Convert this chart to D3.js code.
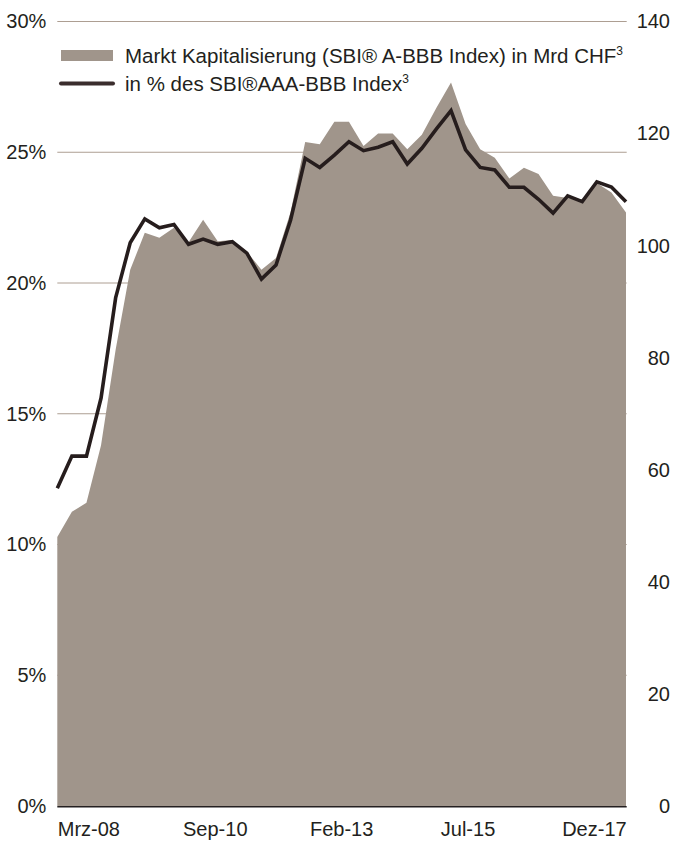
<!DOCTYPE html>
<html>
<head>
<meta charset="utf-8">
<script src="https://cdn.jsdelivr.net/npm/d3@7"></script>
<style>
  html, body { margin: 0; padding: 0; background: #fff; }
  svg { display: block; }
  text { font-family: "Liberation Sans", Arial, sans-serif; fill: #231f20; }
</style>
</head>
<body>
<svg id="chart" width="673" height="841"></svg>
<script>
// Quarterly observations, Mrz-08 … Dez-17
// Market capitalisation of the SBI® A-BBB index, in Mrd CHF (right axis)
const marketCap = [
  48.0, 52.5, 54.1, 64.4, 81.4, 95.7, 102.3, 101.4, 103.2, 100.6,
  104.6, 100.8, 101.0, 98.9, 95.7, 97.8, 106.0, 118.5, 118.1, 122.1,
  122.1, 117.8, 120.0, 120.0, 117.2, 119.8, 124.6, 129.1, 121.7, 117.2,
  115.7, 112.0, 113.9, 112.8, 108.9, 108.5, 108.3, 111.2, 109.5, 105.9
];
// Share of the SBI® AAA-BBB index, in % (left axis)
const shareOfIndex = [
  12.15, 13.38, 13.38, 15.60, 19.43, 21.54, 22.45, 22.11, 22.24, 21.48,
  21.68, 21.48, 21.58, 21.14, 20.15, 20.69, 22.41, 24.77, 24.42, 24.89,
  25.40, 25.06, 25.19, 25.40, 24.55, 25.15, 25.89, 26.59, 25.09, 24.42,
  24.32, 23.66, 23.66, 23.20, 22.67, 23.33, 23.11, 23.87, 23.67, 23.11
];
const xLabels = ["Mrz-08", "Sep-10", "Feb-13", "Jul-15", "Dez-17"];
const leftTicks = [0, 5, 10, 15, 20, 25, 30];
const rightTicks = [0, 20, 40, 60, 80, 100, 120, 140];
const legendItems = [
  { kind: "area", text: "Markt Kapitalisierung (SBI® A-BBB Index) in Mrd CHF", sup: "3" },
  { kind: "line", text: "in % des SBI®AAA-BBB Index", sup: "3" }
];

const fillColor = "#a0958b";
const lineColor = "#261d1d";
const gridColor = "#ad9e92";

const svg = d3.select("#chart");
const plot = { left: 57.3, right: 626, top: 21.5, bottom: 806 };

const n = marketCap.length;
const x = d3.scaleLinear().domain([0, n - 1]).range([plot.left, plot.right]);
const yLeft = d3.scaleLinear().domain([0, 30]).range([plot.bottom, plot.top]);
const yRight = d3.scaleLinear().domain([0, 140]).range([plot.bottom, plot.top]);

// horizontal gridlines (left axis), drawn beneath the area
svg.append("g")
  .selectAll("line")
  .data(leftTicks.filter(d => d > 0))
  .join("line")
  .attr("x1", plot.left).attr("x2", plot.right + 0.7)
  .attr("y1", d => yLeft(d)).attr("y2", d => yLeft(d))
  .attr("stroke", gridColor).attr("stroke-width", 1);

// market capitalisation area
const area = d3.area()
  .x((d, i) => x(i))
  .y0(yRight(0))
  .y1(d => yRight(d));
svg.append("path")
  .datum(marketCap)
  .attr("d", area)
  .attr("fill", fillColor);

// share line
const line = d3.line()
  .x((d, i) => x(i))
  .y(d => yLeft(d));
svg.append("path")
  .datum(shareOfIndex)
  .attr("d", line)
  .attr("fill", "none")
  .attr("stroke", lineColor)
  .attr("stroke-width", 3.6)
  .attr("stroke-linejoin", "miter")
  .attr("stroke-linecap", "butt");

// baseline
svg.append("line")
  .attr("x1", plot.left).attr("x2", plot.right + 0.7)
  .attr("y1", yLeft(0) + 0.8).attr("y2", yLeft(0) + 0.8)
  .attr("stroke", "#231f20").attr("stroke-width", 1.6);

// left axis labels
const leftAxis = d3.axisLeft(yLeft).tickValues(leftTicks).tickFormat(d => d + "%").tickSize(0).tickPadding(10);
const gl = svg.append("g").attr("transform", `translate(${plot.left},0)`).call(leftAxis);
gl.select(".domain").remove();
gl.selectAll("text").attr("font-size", 20).attr("font-family", null).attr("fill", "#231f20").attr("x", -11);

// right axis labels, right-aligned at the page edge
const rightAxis = d3.axisRight(yRight).tickValues(rightTicks).tickSize(0).tickPadding(0);
const gr = svg.append("g").attr("transform", `translate(670,0)`).call(rightAxis);
gr.select(".domain").remove();
gr.selectAll("text").attr("font-size", 20).attr("font-family", null).attr("fill", "#231f20").attr("text-anchor", "end");

// bottom category labels, evenly spread across the period
const labelPos = d3.scaleLinear().domain([-0.25, xLabels.length - 0.75]).range([0, n - 1]);
svg.append("g")
  .selectAll("text")
  .data(xLabels)
  .join("text")
  .attr("x", (d, i) => x(labelPos(i)))
  .attr("y", 836)
  .attr("text-anchor", "middle")
  .attr("font-size", 20)
  .text(d => d);

// legend
const lg = svg.append("g");
legendItems.forEach((item, i) => {
  const cy = 55.5 + i * 28;
  if (item.kind === "area") {
    lg.append("rect").attr("x", 61).attr("y", cy - 5.5).attr("width", 52).attr("height", 11).attr("fill", fillColor);
  } else {
    lg.append("line").attr("x1", 61).attr("x2", 113).attr("y1", cy).attr("y2", cy)
      .attr("stroke", "#3a2d2d").attr("stroke-width", 4).attr("stroke-linecap", "round");
  }
  const t = lg.append("text").attr("x", 125).attr("y", cy + 7).attr("font-size", 20.5);
  t.append("tspan").text(item.text);
  t.append("tspan").attr("dy", -8).attr("font-size", 12).text(item.sup);
});
</script>
</body>
</html>
